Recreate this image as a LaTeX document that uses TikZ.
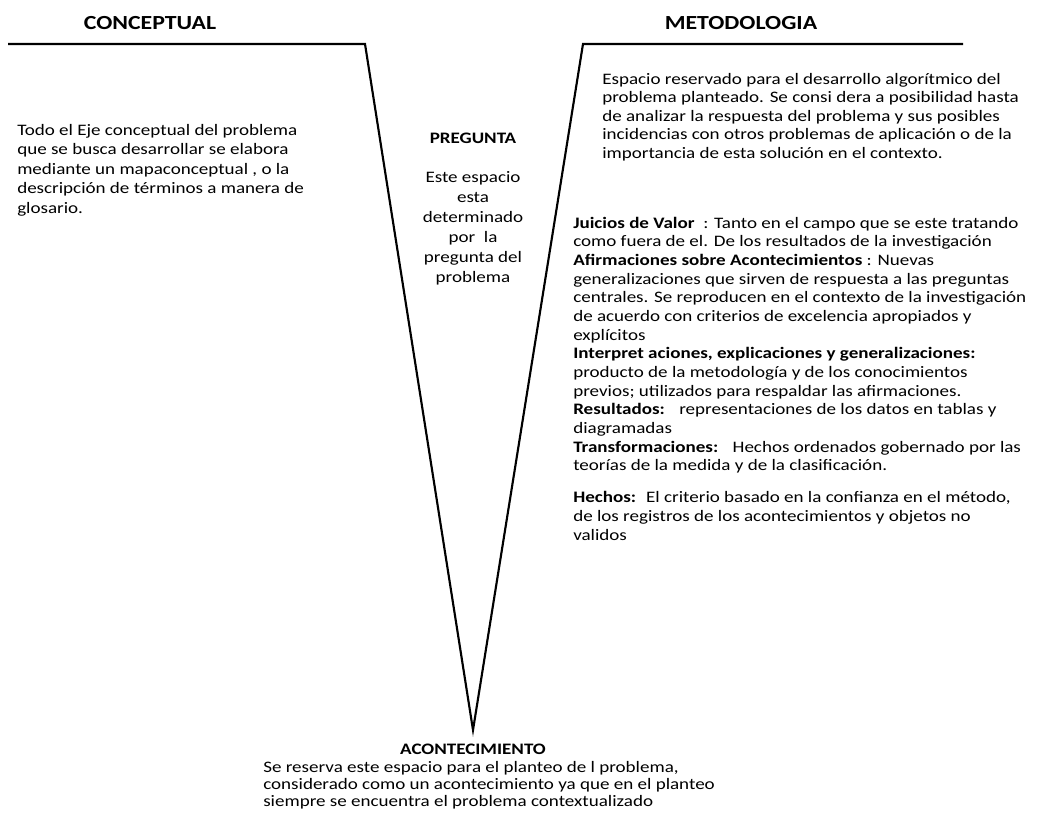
\documentclass[tikz,border=0pt]{standalone}
\usepackage{fontspec}
\setmainfont{Carlito}[FakeStretch=1.19]
\begin{document}
\begin{tikzpicture}[x=0.75pt,y=-0.75pt,
  vline/.style={line width=1.6pt,line join=miter},
  heading/.style={font=\fontsize{15}{18}\selectfont\bfseries,inner sep=0pt,anchor=base},
  lefttext/.style={font=\fontsize{12}{14.6}\selectfont,align=left,inner sep=0pt,anchor=base west},
  midtext/.style={font=\fontsize{12}{15}\selectfont,align=center,inner sep=0pt,anchor=base},
  righttext/.style={font=\fontsize{12}{13.8}\selectfont,align=left,inner sep=0pt,anchor=base west},
  bottomtext/.style={font=\fontsize{12}{12.75}\selectfont,align=left,inner sep=0pt,anchor=base west}]
\useasboundingbox (0,0) rectangle (1037,814);
% V shape
\coordinate (l0) at (8,44);
\coordinate (l1) at (365,44);
\coordinate (vx) at (473,730);
\coordinate (r1) at (583,44);
\coordinate (r0) at (963,44);
\draw[vline] (l0) -- (l1) -- (vx) -- (r1) -- (r0);
% headings
\node[heading] (hc) at (150,29) {CONCEPTUAL};
\node[heading] (hm) at (741,29) {METODOLOGIA};
% left text (anchored at the baseline of its last line)
\node[lefttext] (conc) at (17,213) {Todo el Eje conceptual del problema\\
que se busca desarrollar se elabora\\
mediante un mapaconceptual , o la\\
descripción de términos a manera de\\
glosario.};
% centre
\node[midtext,font=\fontsize{12}{15}\selectfont\bfseries] (preg) at (473,143) {PREGUNTA};
\node[midtext] (pregt) at (473,282) {Este espacio\\ esta\\ determinado\\ por~ la\\ pregunta del\\ problema};
% right top
\node[righttext] (met) at (602,158) {Espacio reservado para el desarrollo algorítmico del\\
problema planteado. Se consi dera a posibilidad hasta\\
de analizar la respuesta del problema y sus posibles\\
incidencias con otros problemas de aplicación o de la\\
importancia de esta solución en el contexto.};
% right lower
\node[righttext,font=\fontsize{12}{14}\selectfont] (juic) at (573,540) {\textbf{Juicios de Valor}~ : Tanto en el campo que se este tratando\\
como fuera de el. De los resultados de la investigación\\
\textbf{Afirmaciones sobre Acontecimientos} : Nuevas\\
generalizaciones que sirven de respuesta a las preguntas\\
centrales. Se reproducen en el contexto de la investigación\\
de acuerdo con criterios de excelencia apropiados y\\
explícitos\\
\textbf{Interpret aciones, explicaciones y generalizaciones:}\\
producto de la metodología y de los conocimientos\\
previos; utilizados para respaldar las afirmaciones.\\
\textbf{Resultados:}~~ representaciones de los datos en tablas y\\
diagramadas\\
\textbf{Transformaciones:}~~ Hechos ordenados gobernado por las\\
teorías de la medida y de la clasificación.\\[10pt]
\textbf{Hechos:}~ El criterio basado en la confianza en el método,\\
de los registros de los acontecimientos y objetos no\\
validos};
% bottom
\node[midtext,font=\fontsize{12}{15}\selectfont\bfseries] (acon) at (473,754) {ACONTECIMIENTO};
\node[bottomtext] (acont) at (263,806) {Se reserva este espacio para el planteo de l problema,\\
considerado como un acontecimiento ya que en el planteo\\
siempre se encuentra el problema contextualizado};
\end{tikzpicture}
\end{document}
